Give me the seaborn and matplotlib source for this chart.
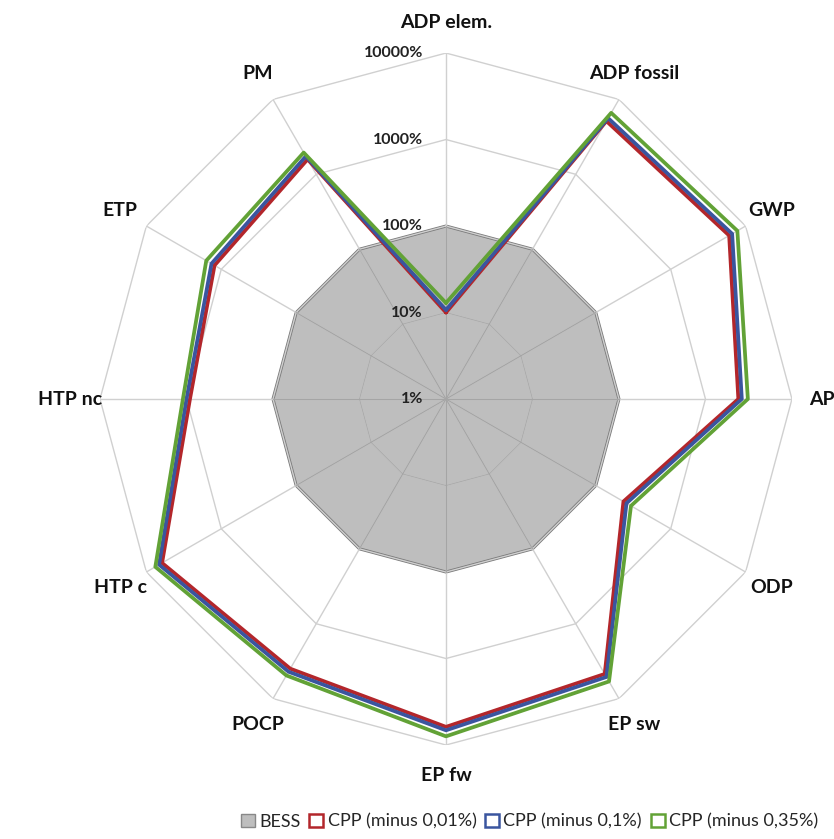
import numpy as np
import pandas as pd
import matplotlib
matplotlib.use("Agg")
import matplotlib.pyplot as plt
from matplotlib.patches import Patch
from matplotlib.transforms import offset_copy
import seaborn as sns

# Impact categories, clockwise from the top
categories = ["ADP elem.", "ADP fossil", "GWP", "AP", "ODP", "EP sw",
              "EP fw", "POCP", "HTP c", "HTP nc", "ETP", "PM"]

# Impacts relative to the BESS reference (in %)
bess = [100, 100, 100, 100, 100, 100, 100, 100, 100, 100, 100, 100]
cpp_001 = [10.0, 5130, 6030, 2400, 234, 4680, 6170, 3980, 6170, 912, 1230, 1585]
cpp_01 = [10.7, 5620, 6610, 2630, 257, 5130, 6760, 4370, 6760, 1000, 1350, 1740]
cpp_035 = [12.9, 6610, 7760, 3090, 295, 5890, 7940, 4900, 7590, 1100, 1585, 1950]

series_names = ["CPP (minus 0,01%)", "CPP (minus 0,1%)", "CPP (minus 0,35%)"]
series_values = [cpp_001, cpp_01, cpp_035]
series_colors = ["#B3262B", "#3A559F", "#62A236"]

grid_levels = [10, 100, 1000, 10000]
tick_labels = ["1%", "10%", "100%", "1000%", "10000%"]
tick_values = [1, 10, 100, 1000, 10000]

sns.set_theme(style="white")
plt.rcParams["font.family"] = ["Lato", "DejaVu Sans"]

n = len(categories)
theta = np.linspace(0, 2 * np.pi, n, endpoint=False)
theta_closed = np.append(theta, theta[0] + 2 * np.pi)


def closed(vals):
    return np.append(vals, vals[0])


rows = []
for name, vals in zip(series_names, series_values):
    for t, v in zip(theta_closed, closed(vals)):
        rows.append({"theta": t, "value": v, "series": name})
df = pd.DataFrame(rows)

fig = plt.figure(figsize=(8.34, 8.39), dpi=100)
ax = fig.add_axes([0.1199, 0.1120, 0.8297, 0.8248], projection="polar")
ax.set_theta_zero_location("N")
ax.set_theta_direction(-1)
ax.set_rscale("log")
ax.set_rlim(1, 10000)
ax.grid(False)
ax.spines["polar"].set_visible(False)
ax.set_xticks([])
ax.set_yticks([])
ax.set_facecolor("none")

# BESS reference area
ax.fill(theta_closed, closed(bess), facecolor="#BEBEBE", edgecolor="#7A7A7A",
        linewidth=2.2, zorder=1)

# polygonal grid and spokes
grid_color = "#D0D0D0"
for lvl in grid_levels:
    ax.plot(theta_closed, [lvl] * (n + 1), color=grid_color, lw=1.0, zorder=2)
for t in theta:
    ax.plot([t, t], [1, 10000], color=grid_color, lw=1.0, zorder=2)
# darker spokes/rings where they run over the BESS area
ax.plot(theta_closed, [10] * (n + 1), color="#ADADAD", lw=0.9, zorder=2)
for t in theta:
    ax.plot([t, t], [1, 100], color="#A5A5A5", lw=0.9, zorder=2)

# CPP scenarios
sns.lineplot(data=df, x="theta", y="value", hue="series", hue_order=series_names,
             palette=dict(zip(series_names, series_colors)), sort=False,
             estimator=None, linewidth=2.7, legend=False, ax=ax, zorder=3)
ax.set_xlabel("")
ax.set_ylabel("")

# radial tick labels, left of the vertical axis
tick_trans = offset_copy(ax.transData, fig=fig, x=-23, y=0, units="dots")
for v, lab in zip(tick_values, tick_labels):
    ax.text(0, v, lab, transform=tick_trans, ha="right", va="center",
            fontsize=11.5, fontweight="bold", color="#222222", zorder=5)

# category labels
label_r = 10 ** (4 * 1.087)
for t, lab in zip(theta, categories):
    ax.text(t, label_r, lab, ha="center", va="center", fontsize=14,
            fontweight="bold", color="#111111", clip_on=False)

handles = [Patch(facecolor="#BEBEBE", edgecolor="#888888", label="BESS")]
for name, col in zip(series_names, series_colors):
    handles.append(Patch(facecolor="white", edgecolor=col, linewidth=1.8, label=name))
fig.legend(handles=handles, loc="center", bbox_to_anchor=(0.635, 0.0205), ncol=4,
           frameon=False, fontsize=13, handlelength=0.75, handleheight=0.75,
           handletextpad=0.25, columnspacing=0.5, borderaxespad=0)

fig.savefig("out.png", dpi=100)
